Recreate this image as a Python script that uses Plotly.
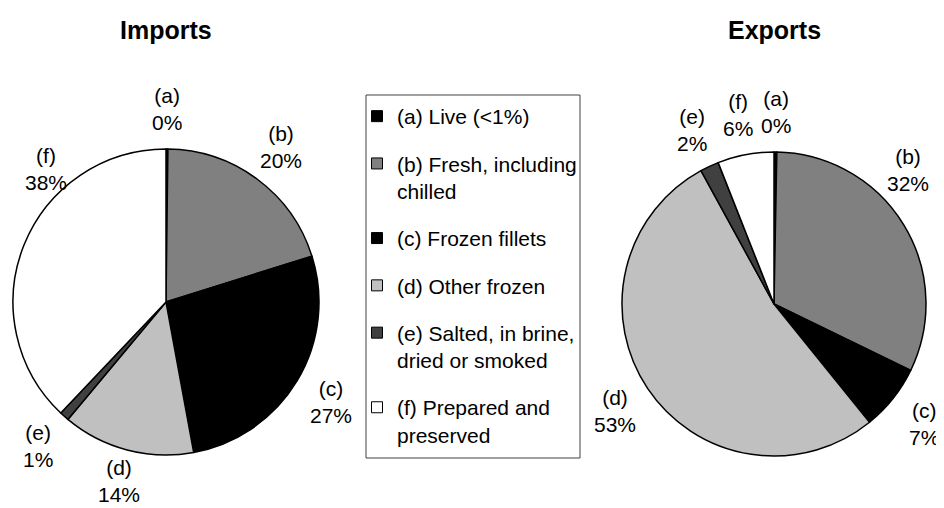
import math
import plotly.graph_objects as go

# ---------------- data ----------------
codes = ["a", "b", "c", "d", "e", "f"]
legend_labels = [
    "(a) Live (<1%)",
    "(b) Fresh, including<br>chilled",
    "(c) Frozen fillets",
    "(d) Other frozen",
    "(e) Salted, in brine,<br>dried or smoked",
    "(f) Prepared and<br>preserved",
]
imports_values = [0.2, 20, 27, 14, 1, 38]
exports_values = [0.3, 32, 7, 53, 2, 6]
slice_colors = ["#000000", "#808080", "#000000", "#C0C0C0", "#404040", "#FFFFFF"]

# ---------------- layout parameters ----------------
W, H = 944, 508          # window size
PAGE_MARGIN = 8          # default body margin of the html page
FW, FH = W - PAGE_MARGIN, H - PAGE_MARGIN   # figure size


def px_x(x):
    return (x - PAGE_MARGIN) / FW


def px_y(y):
    return 1 - (y - PAGE_MARGIN) / FH


FONT = "Arial, Liberation Sans, sans-serif"
LABEL_SIZE = 21
pies = {
    "Imports": dict(values=imports_values, cx=166, cy=302, r=153),
    "Exports": dict(values=exports_values, cx=774, cy=304, r=152),
}
LABEL_OFFSET = 40
# (chart, code) -> (angle in degrees clockwise from 12 o'clock or None for mid, offset from rim)
label_override = {
    ("Imports", "f"): (318, 26),
    ("Imports", "d"): (None, 32),
    ("Exports", "b"): (45, 37),
}

fig = go.Figure()
annotations = []

for name, p in pies.items():
    cx, cy, r = p["cx"], p["cy"], p["r"]
    dom_x = [px_x(cx - r), px_x(cx + r)]
    dom_y = [px_y(cy + r), px_y(cy - r)]
    fig.add_trace(go.Pie(
        labels=codes, values=p["values"], sort=False, direction="clockwise",
        rotation=0, textinfo="none", hoverinfo="label+percent",
        marker=dict(colors=slice_colors, line=dict(color="#000000", width=1.5)),
        domain=dict(x=dom_x, y=dom_y), showlegend=False, name=name,
    ))
    # title
    annotations.append(dict(
        text=f"<b>{name}</b>", x=px_x(cx), y=px_y(30), xref="paper", yref="paper",
        xanchor="center", yanchor="middle", showarrow=False,
        font=dict(family=FONT, size=25, color="#000000"),
    ))
    # slice labels placed from the data's cumulative angles
    total = sum(p["values"])
    cum = 0.0
    for code, v in zip(codes, p["values"]):
        mid = (cum + v / 2) / total * 360
        cum += v
        ang, off = label_override.get((name, code), (mid, LABEL_OFFSET))
        if ang is None:
            ang = mid
        d = r + off
        lx = cx + d * math.sin(math.radians(ang))
        ly = cy - d * math.cos(math.radians(ang))
        pct = round(v / total * 100)
        annotations.append(dict(
            text=f"({code})<br>{pct}%", x=px_x(lx), y=px_y(ly),
            xref="paper", yref="paper", xanchor="center", yanchor="middle",
            showarrow=False, align="center",
            font=dict(family=FONT, size=LABEL_SIZE, color="#000000"),
        ))

# legend entries (one group each so they can be spaced)
for i, (lab, col) in enumerate(zip(legend_labels, slice_colors)):
    fig.add_trace(go.Scatter(
        x=[None], y=[None], mode="markers", name=lab, legendgroup=f"g{i}",
        marker=dict(symbol="square", size=11, color=col,
                    line=dict(color="#000000", width=1)),
        hoverinfo="skip",
    ))

fig.update_layout(
    width=FW, height=FH, margin=dict(l=0, r=0, t=0, b=0),
    paper_bgcolor="#FFFFFF", plot_bgcolor="#FFFFFF",
    xaxis=dict(visible=False), yaxis=dict(visible=False),
    annotations=annotations,
    legend=dict(
        x=px_x(357), y=px_y(96), xanchor="left", yanchor="top",
        font=dict(family=FONT, size=LABEL_SIZE, color="#000000"),
        bgcolor="rgba(0,0,0,0)", borderwidth=0, tracegroupgap=17,
        valign="top", itemclick=False, itemdoubleclick=False,
    ),
    shapes=[dict(
        type="rect", xref="paper", yref="paper",
        x0=px_x(366), x1=px_x(580), y0=px_y(458), y1=px_y(95),
        line=dict(color="#404040", width=1), fillcolor="rgba(0,0,0,0)",
    )],
)

fig.write_html("out.html")
